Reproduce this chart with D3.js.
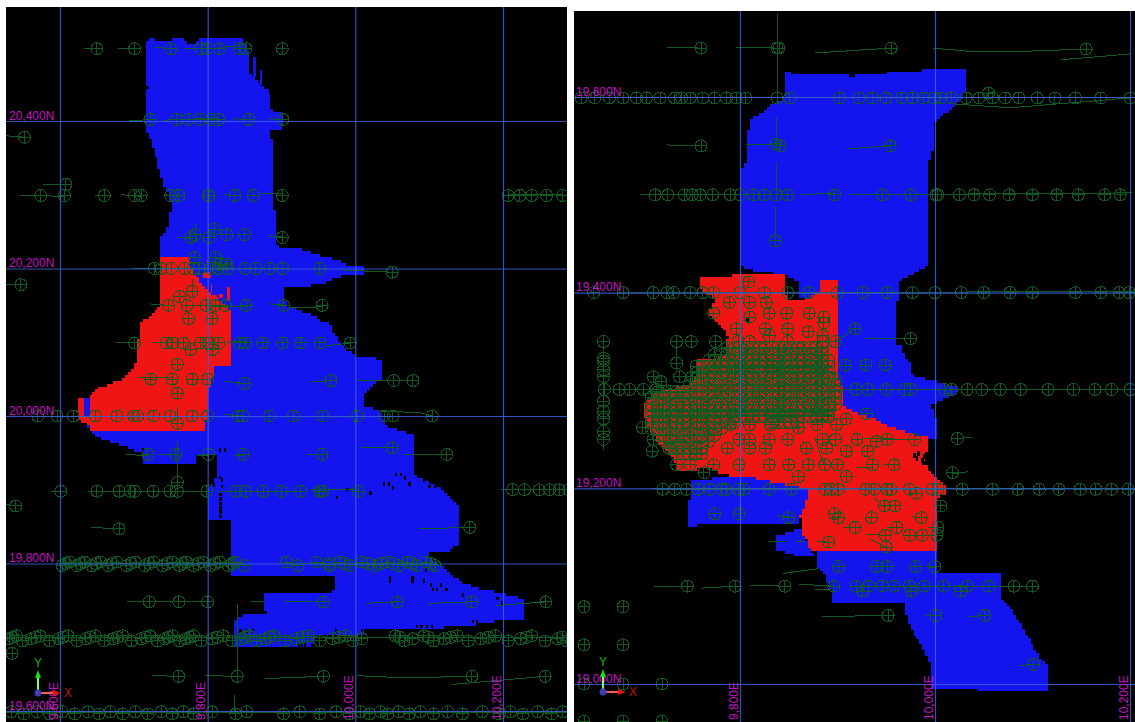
<!DOCTYPE html>
<html>
<head>
  <meta charset="utf-8">
  <title>Drill hole plan views</title>
  <style>
    html, body { margin: 0; background: #fff; }
    svg { display: block; }
  </style>
</head>
<body>
  <script src="https://cdn.jsdelivr.net/npm/d3@7/dist/d3.min.js"></script>
  <script>
    // grid ticks, survey coordinates
    var leftEastTicks = [9600, 9800, 10000, 10200];
    var leftNorthTicks = [19600, 19800, 20000, 20200, 20400];
    var rightEastTicks = [9800, 10000, 10200];
    var rightNorthTicks = [19000, 19200, 19400, 19600];

    // block outlines as [E, N]
    var leftBlue = [[9719,20513],[9729,20513],[9729,20507],[9754,20507],[9754,20513],[9769,20513],[9771,20506],[9786,20506],[9788,20513],[9848,20513],[9849,20506],[9855,20492],[9855,20469],[9863,20458],[9868,20452],[9878,20443],[9884,20435],[9884,20419],[9888,20412],[9901,20412],[9901,20389],[9884,20389],[9884,20376],[9888,20376],[9888,20302],[9891,20270],[9891,20236],[9895,20230],[9913,20230],[9937,20223],[9954,20218],[9972,20213],[9991,20204],[10013,20202],[10013,20194],[9991,20194],[9974,20188],[9956,20181],[9929,20176],[9903,20176],[9903,20160],[9910,20150],[9926,20143],[9944,20137],[9954,20130],[9969,20124],[9969,20112],[9986,20092],[10001,20082],[10020,20081],[10033,20075],[10036,20073],[10036,20051],[10020,20039],[10013,20031],[10013,20012],[10033,20008],[10043,19987],[10058,19982],[10079,19975],[10082,19919],[10102,19910],[10115,19903],[10132,19888],[10139,19879],[10139,19826],[10125,19817],[10100,19817],[10100,19808],[10120,19793],[10144,19774],[10165,19767],[10198,19760],[10216,19755],[10227,19750],[10227,19726],[10194,19726],[10184,19720],[10108,19713],[10013,19711],[10013,19705],[9944,19705],[9941,19687],[9836,19687],[9836,19725],[9850,19731],[9884,19732],[9876,19739],[9876,19762],[9970,19762],[9972,19786],[9832,19786],[9832,19862],[9800,19862],[9800,19899],[9811,19919],[9811,19949],[9783,19949],[9783,19938],[9711,19938],[9711,19950],[9677,19963],[9657,19970],[9645,19976],[9638,19983],[9638,20001],[9631,20001],[9631,20024],[9641,20024],[9708,20041],[9749,20157],[9741,20217],[9738,20218],[9738,20242],[9746,20256],[9749,20270],[9752,20289],[9741,20313],[9737,20329],[9731,20347],[9723,20374],[9716,20390],[9716,20438],[9719,20445],[9716,20456],[9716,20494]];
    var leftRed = [[9738,20218],[9773,20218],[9776,20207],[9779,20194],[9786,20188],[9794,20175],[9801,20167],[9812,20161],[9819,20157],[9830,20146],[9832,20075],[9832,20068],[9807,20068],[9807,20057],[9800,20034],[9800,20024],[9797,19982],[9640,19982],[9640,19987],[9626,19995],[9626,20024],[9631,20024],[9631,20001],[9640,20001],[9640,20024],[9654,20038],[9670,20045],[9687,20052],[9697,20063],[9703,20075],[9707,20112],[9707,20124],[9715,20131],[9729,20143],[9738,20150],[9738,20174]];
    var rightBlueUpper = [[9847,19625],[9872,19623],[9910,19623],[9911,19621],[9918,19621],[9918,19623],[9950,19624],[9951,19626],[9985,19626],[9986,19628],[10032,19628],[10032,19607],[10029,19600],[10019,19591],[10012,19585],[10003,19577],[10000,19575],[9999,19549],[9995,19539],[9994,19530],[9993,19427],[9987,19425],[9962,19413],[9962,19393],[9959,19393],[9959,19348],[9965,19347],[9969,19331],[9973,19331],[9977,19316],[9997,19311],[10010,19307],[10027,19302],[10006,19290],[9995,19285],[10002,19270],[10002,19251],[9992,19250],[9895,19270],[9895,19331],[9884,19393],[9861,19394],[9860,19413],[9847,19418],[9819,19423],[9809,19424],[9802,19427],[9802,19527],[9805,19529],[9807,19544],[9809,19575],[9812,19580],[9821,19583],[9833,19592],[9847,19600]];
    var rightBlueWest = [[9751,19208],[9783,19212],[9814,19211],[9833,19207],[9862,19201],[9870,19200],[9870,19193],[9866,19181],[9862,19171],[9862,19164],[9783,19163],[9781,19165],[9755,19164],[9755,19161],[9748,19161],[9748,19187],[9751,19188]];
    var rightBlueNotch = [[9838,19151],[9847,19154],[9862,19159],[9868,19159],[9868,19146],[9875,19132],[9855,19132],[9844,19136],[9837,19137]];
    var rightBlueSouth = [[9879,19136],[10003,19136],[10003,19113],[10067,19113],[10067,19090],[10075,19081],[10088,19061],[10099,19042],[10106,19030],[10115,19021],[10115,18994],[10045,18994],[10045,18996],[9997,18996],[9995,19023],[9990,19033],[9980,19050],[9973,19062],[9969,19078],[9969,19083],[9893,19083],[9893,19096],[9887,19112],[9880,19120]];
    var rightRed = [[9760,19417],[9793,19417],[9793,19420],[9837,19420],[9837,19418],[9847,19418],[9847,19399],[9851,19391],[9861,19391],[9871,19396],[9882,19403],[9882,19413],[9900,19413],[9900,19331],[9900,19314],[9907,19301],[9905,19285],[9921,19277],[9940,19270],[9958,19262],[9980,19255],[9992,19254],[9992,19236],[9990,19226],[9995,19216],[10002,19210],[10010,19202],[10010,19193],[10003,19192],[10003,19136],[9873,19136],[9868,19151],[9865,19154],[9865,19164],[9862,19171],[9866,19181],[9870,19193],[9870,19200],[9862,19201],[9833,19207],[9814,19211],[9785,19214],[9766,19221],[9751,19219],[9736,19217],[9733,19229],[9724,19239],[9714,19250],[9705,19267],[9701,19284],[9709,19294],[9722,19301],[9751,19307],[9757,19321],[9757,19331],[9773,19333],[9785,19335],[9788,19355],[9783,19365],[9777,19370],[9766,19379],[9775,19393],[9766,19399],[9760,19406]];

    // small loose pieces of block, [E0, N0, E1, N1]
    var leftBlueBits = [[9861,20487,9865,20460],[9871,20469,9873,20449],[9880,20443,9883,20435]];
    var leftRedBits = [[9826,20175,9830,20157],[9799,20212,9801,20206],[9804,20179,9806,20169],[9794,20195,9804,20188],[9816,20166,9821,20161]];

    // unestimated blocks, [E, N]
    var leftVoids = [[9815,19917],[9818,19914],[9807,19907],[9818,19905],[9711,19954],[9815,19954],[9822,19954],[9974,19890],[9988,19901],[10019,19896],[10037,19908],[10044,19908],[10050,19903],[10054,19921],[10060,19921],[10066,19916],[10072,19908],[10091,19914],[10099,19905],[10106,19905],[10094,19791],[10045,19781],[10045,19776],[10076,19781],[10076,19776],[10091,19777],[10101,19771],[10104,19765],[10109,19765],[10115,19771],[10122,19765],[10144,19758],[10191,19753],[10197,19747],[10082,19715],[10088,19715],[10096,19715],[10102,19715],[10158,19722],[10163,19722],[9843,19709],[9852,19709],[9860,19709],[9972,19709],[10007,19709],[10016,19709],[10026,19709],[9816,19894],[9816,19888],[9816,19882],[9816,19876],[9816,19870],[9816,19864],[9922,19690],[9926,19690],[9930,19690]];
    var rightVoids = [[9977,19234],[9982,19236],[9988,19233],[9980,19231],[9986,19229],[9990,19235],[9987,19226],[9806,19373]];

    // drill hole collars, one [N, [E, ...]] per section line
    var leftCollars = [
      [20498, [9650,9701,9750,9791,9800,9816,9843,9852,9901]],
      [20402, [9722,9758,9774,9790,9805,9815,9856,9902]],
      [20378, [9552]],
      [20314, [9608]],
      [20299, [9574,9606,9660,9701,9710,9750,9761,9801,9802,9837,9862,9901,10207,10223,10239,10259,10281]],
      [20246, [9783,9826,9850]],
      [20253, [9809]],
      [20242, [9802,9901,9777]],
      [20200, [9728,9737,9751,9769,9781,9789,9804,9814,9827,9851,9865,9884,9902,9952]],
      [20195, [10050]],
      [20215, [9782,9811]],
      [20206, [9825,9826,9816]],
      [20178, [9547]],
      [20169, [9779]],
      [20162, [9762]],
      [20150, [9747,9772,9798,9810,9824,9852,9903,9955]],
      [20132, [9774,9806]],
      [20099, [9701,9744,9753,9767,9790,9801,9815,9843,9852,9874,9901,9926,9952,9993]],
      [20090, [9777,9807]],
      [20070, [9759]],
      [20050, [9723,9752,9779,9800]],
      [20044, [9850]],
      [20048, [9967,10052,10078]],
      [20031, [9759]],
      [20000, [9570,9596,9618,9648,9677,9700,9705,9727,9749,9779,9800,9841,9848,9884,9916,9956,10003,10039,10051,10104]],
      [19990, [9759]],
      [19948, [9719,9757,9801,9848,9955,10124]],
      [19957, [10050]],
      [19910, [9759]],
      [19898, [9601,9650,9680,9695,9701,9726,9749,9759,9799,9838,9851,9875,9900,9926,9952,9956,10004]],
      [19900, [10213,10229,10249,10263,10276,10289]],
      [19878, [9540]],
      [19847, [9680]],
      [19849, [10155]],
      [19802, [9613,9633,9655,9677,9702,9727,9752,9771,9794,9816,9838,9907,9947,9979,10009,10044,10071,10096]],
      [19800, [9608,9628,9649,9671,9696,9721,9745,9766,9787,9810,9833,9965,9986,10017,10035,10052,10077,10102]],
      [19797, [9603,9623,9643,9665,9690,9715,9739,9762,9781,9804,9828,9850,9922,9965,9993,10026,10059,10083,10108]],
      [19748, [9721,9761,9800,9957,10057,10158,10258]],
      [19702, [9541,9573,9611,9648,9685,9722,9752,9781,9821,9856,9890,9937,9987,10054,10093,10138,10190,10239]],
      [19700, [9536,9567,9604,9641,9678,9716,9747,9776,9813,9851,9884,9929,9978,10060,10099,10129,10180,10232,10280]],
      [19698, [9531,9561,9598,9635,9672,9710,9742,9771,9806,9846,9878,9920,9969,10009,10078,10120,10170,10224,10274]],
      [19695, [9549,9586,9623,9660,9697,9732,9762,9791,9833,9866,9905,9952,9997,10066,10106,10153,10207,10257,10286]],
      [19678, [9535]],
      [19647, [9761,9840,9957,10158,10257]],
      [19599, [9534,9569,9603,9638,9668,9702,9737,9767,9806,9853,9925,9974,10007,10034,10059,10088,10125,10172,10210,10247,10281]],
      [19596, [9551,9586,9620,9653,9685,9719,9752,9781,9838,9903,9952,9992,10019,10044,10073,10106,10145,10195,10227,10266]]
    ];
    var rightCollars = [
      [19650, [9760,9838,9840,9955]],
      [19649, [10155]],
      [19604, [10055]],
      [19599, [9637,9651,9666,9680,9694,9704,9718,9733,9740,9749,9762,9774,9786,9796,9806,9838,9851,9902,9922,9936,9950,9966,9977,9988,9999,10006,10017,10032,10045,10059,10072,10086,10105,10123,10144,10170,10200]],
      [19552, [9837]],
      [19550, [9760,9841,9954]],
      [19500, [9713,9726,9743,9751,9759,9772,9790,9800,9814,9825,9837,9849,9897,9946,9975,10001,10003,10025,10040,10056,10076,10100,10125,10147,10174,10190]],
      [19453, [9836]],
      [19411, [9809]],
      [19400, [9650,9680,9711,9725,9732,9749,9762,9773,9800,9825,9849,9871,9900,9926,9951,9977,10000,10027,10050,10077,10100,10144,10170,10189,10199]],
      [19390, [9789,9810,9827]],
      [19379, [9773,9830,9848,9871]],
      [19375, [9886,9810]],
      [19369, [9886]],
      [19363, [9796,9826,9849,9918]],
      [19360, [9870]],
      [19356, [9885,9830]],
      [19353, [9975]],
      [19350, [9660,9735,9750,9775,9798,9810,9849,9898,9885]],
      [19333, [9660]],
      [19330, [9660]],
      [19328, [9735]],
      [19326, [9908,9929,9949]],
      [19321, [9660]],
      [19314, [9711,9738,9751,9660]],
      [19309, [9719]],
      [19301, [9661,9676,9687,9701,9714,9919,9931,9950,9969,9975,10010,10017,10033,10048,10067,10088,10116,10142,10164,10181,10200]],
      [19289, [9660]],
      [19279, [9660]],
      [19276, [9930]],
      [19275, [9890]],
      [19271, [9909,9660]],
      [19265, [9790,9810,9831,9879,9899]],
      [19262, [9700,9860]],
      [19258, [9660]],
      [19251, [10023]],
      [19250, [9660,9711,9799,9810,9830,9849,9885,9898,9920,9951,9979]],
      [19248, [9940]],
      [19241, [9727,9787,9810,9826,9868,9889]],
      [19238, [9710,9909,9931]],
      [19224, [9749,9773,9799,9830,9850,9870,9887,9900,9936,9958,9735]],
      [19216, [9763,10018]],
      [19212, [9860,9909]],
      [19199, [9721,9733,9745,9757,9769,9781,9786,9799,9804,9830,9853,9887,9894,9901,9929,9938,9951,9955,9974,9997,10003,10028,10059,10085,10107,10127,10149,10165,10181,10198]],
      [19195, [9981]],
      [19182, [9948,9959,10006]],
      [19174, [9774,9799,9897]],
      [19170, [9850,9901,9935,9986]],
      [19160, [9918,9961,10003]],
      [19152, [9974,9987,10002,9949]],
      [19145, [9891]],
      [19140, [9950]],
      [19120, [9901,9940,9951,9980,10000]],
      [19100, [9746,9795,9846,9896,9919,9932,9946,9958,9974,9989,10009,10033,10055,10081,10100]],
      [19095, [9926,9976,10026]],
      [19079, [9640,9680]],
      [19070, [9952,10001,10051]],
      [19040, [9640,9680]],
      [19020, [10101]],
      [19000, [9640,9680,9720]],
      [18962, [9640,9680,9720]]
    ];

    // tight drilling in the middle of the red zone, kept inside its outline
    var rightTightE = [9703,9709,9716,9722,9729,9735,9742,9748,9755,9761,9768,9774,9781,9787,9794,9800,9807,9813,9820,9826,9833,9839,9846,9852,9859,9865,9872,9878,9885,9891,9898];
    var rightTightN = [19344,19337,19331,19325,19318,19312,19305,19299,19293,19286,19280,19273,19267,19261,19254,19248,19241,19235];
    var rightTightOutline = [[9703,19289],[9705,19265],[9720,19244],[9734,19231],[9755,19227],[9773,19248],[9781,19258],[9803,19271],[9847,19265],[9892,19271],[9903,19297],[9894,19331],[9886,19346],[9785,19344],[9755,19325],[9749,19306],[9716,19301]];

    // hole traces as flat lists E, N, E, N ...
    var leftTraces = [
      [9632,20498,9650,20498],[9678,20499,9701,20498],[9729,20500,9750,20498],[9767,20498,9816,20498],[9816,20500,9843,20502],
      [9693,20400,9722,20402],[9740,20401,9758,20402],[9781,20404,9815,20403],[9834,20403,9856,20402],[9882,20403,9902,20402],
      [9527,20380,9552,20378],[9577,20314,9608,20314],
      [9546,20299,9606,20298],[9647,20299,9660,20299],[9683,20300,9710,20298],[9742,20300,9761,20298],[9822,20300,9837,20299],[9873,20301,9901,20302],[10207,20300,10281,20300],
      [9783,20260,9783,20246],[9809,20263,9809,20253],[9759,20242,9777,20241],[9882,20243,9901,20243],
      [9698,20200,9769,20200],[9982,20198,10050,20195],
      [9527,20179,9547,20178],[9779,20186,9779,20169],
      [9722,20152,9747,20150],[9772,20150,9852,20148],[9883,20152,9903,20151],[9910,20147,9955,20148],
      [9676,20100,9701,20099],[9724,20099,9767,20099],[9826,20100,9852,20101],[9960,20095,9993,20099],[9806,20110,9806,20089],
      [9705,20052,9752,20052],[9822,20047,9850,20044],[9939,20046,9967,20048],[10002,20048,10078,20048],
      [9759,20012,9759,19990],[9572,20000,9648,20000],[9824,20002,9848,20000],[9936,20000,10003,20000],
      [10034,20006,10086,20005],[10086,20005,10104,20000],
      [9689,19948,9719,19946],[9732,19948,9757,19948],[9786,19947,9801,19947],[9836,19946,9848,19946],[9935,19948,9955,19948],[10008,19957,10050,19957],[10064,19948,10124,19948],
      [9759,19966,9759,19910],[9588,19898,9601,19898],[9638,19898,9799,19898],[9816,19898,9926,19898],[9940,19901,10004,19900],[10197,19900,10289,19900],
      [9527,19880,9540,19878],[9642,19849,9680,19847],[10086,19847,10155,19849],
      [9603,19800,9850,19800],[9907,19800,10108,19800],
      [9691,19748,9800,19748],[9857,19748,9877,19748],[9903,19748,9957,19748],[10014,19746,10057,19748],[10099,19746,10158,19748],[10190,19743,10258,19748],
      [9840,19745,9840,19647],[9527,19699,10291,19699],
      [9725,19648,9761,19647],[9796,19648,9840,19647],[9878,19644,9957,19647],[10002,19648,10064,19645],[10064,19645,10158,19647],[10131,19636,10257,19647],
      [9519,19598,10291,19598],[9837,19622,9837,19598]
    ];
    var rightTraces = [
      [9725,19651,9760,19650],[9796,19651,9838,19650],[9877,19645,9955,19650],
      [9998,19650,10032,19647,10099,19647,10155,19649],[10129,19638,10200,19644],
      [9838,19685,9838,19600],[9630,19600,10205,19600],[10017,19593,10077,19589,10200,19599],
      [9725,19551,9760,19550],[9806,19551,9837,19552],[9837,19580,9837,19552],[9910,19547,9954,19550],
      [9697,19500,9849,19500],[9862,19500,9897,19502],[9913,19500,10202,19502],
      [9837,19534,9837,19503],[9836,19488,9836,19453],
      [9680,19400,10205,19401],
      [9898,19350,9918,19363],[9929,19353,9975,19353],
      [9660,19350,9660,19239],[9735,19350,9735,19325],
      [9669,19301,10200,19301],[9700,19297,9760,19299],
      [10023,19251,10038,19252],[10018,19215,10034,19217],
      [9928,19251,9979,19250],[9919,19221,9936,19221],[9947,19224,9958,19224],[9877,19251,9886,19225],
      [9710,19200,10205,19200],[9938,19190,9948,19181],[9838,19172,9850,19171],[9975,19171,9986,19170],
      [9906,19160,9918,19160],[9951,19160,9961,19160],[9993,19160,10003,19160],[9929,19153,9949,19152],
      [9830,19146,9847,19146],[9857,19146,9866,19146],[9879,19146,9891,19145],[9934,19148,9950,19140],
      [9844,19113,9881,19118],[9990,19120,10000,19119],
      [9712,19100,9746,19100],[9761,19098,9795,19100],[9810,19101,9846,19100],[9861,19102,9896,19100],[9877,19097,9893,19097],[9913,19100,10100,19100],
      [9884,19069,9952,19070],[9990,19070,10001,19070],[10035,19069,10051,19070],[10086,19019,10101,19020]
    ];

    var blockBlue = "#1414ee";
    var blockRed = "#f01414";
    var holeGreen = "#0e5a20";
    var gridBlue = "#3a62e0";
    var labelPink = "#c412c4";

    var svg = d3.select("body").append("svg")
      .attr("width", 1135)
      .attr("height", 722);

    // collar marker: circle with a cross through it
    var collarSymbol = {
      draw: function (ctx) {
        var r = 6;
        ctx.moveTo(r, 0);
        ctx.arc(0, 0, r, 0, 2 * Math.PI);
        ctx.moveTo(-r, 0);
        ctx.lineTo(r, 0);
        ctx.moveTo(0, -r);
        ctx.lineTo(0, r);
      }
    };

    // turn an outline into row runs of square model blocks
    function blockRuns(outline, cell) {
      var runs = [];
      var minE = Math.floor(d3.min(outline, function (d) { return d[0]; }) / cell) * cell;
      var maxE = d3.max(outline, function (d) { return d[0]; });
      var minN = Math.floor(d3.min(outline, function (d) { return d[1]; }) / cell) * cell;
      var maxN = d3.max(outline, function (d) { return d[1]; });
      for (var n = minN; n < maxN; n += cell) {
        var start = null;
        for (var e = minE; e <= maxE + cell; e += cell) {
          var inside = d3.polygonContains(outline, [e + cell / 2, n + cell / 2]);
          if (inside && start === null) start = e;
          if (!inside && start !== null) {
            runs.push([start, n + cell, e, n]);
            start = null;
          }
        }
      }
      return runs;
    }

    function drawPanel(p) {
      var x = d3.scaleLinear().domain(p.eastDomain).range(p.xRange);
      var y = d3.scaleLinear().domain(p.northDomain).range(p.yRange);

      var clipId = "clip-" + p.name;
      svg.append("clipPath").attr("id", clipId).append("rect")
        .attr("x", p.left).attr("y", p.top)
        .attr("width", p.right - p.left).attr("height", p.bottom - p.top);

      var panel = svg.append("g").attr("clip-path", "url(#" + clipId + ")");
      panel.append("rect")
        .attr("x", p.left).attr("y", p.top)
        .attr("width", p.right - p.left).attr("height", p.bottom - p.top)
        .attr("fill", "#000");

      function boxes(data, fill, cls) {
        panel.append("g").attr("class", cls).attr("shape-rendering", "crispEdges")
          .selectAll("rect").data(data).enter().append("rect")
          .attr("x", function (d) { return x(d[0]); })
          .attr("y", function (d) { return y(d[1]); })
          .attr("width", function (d) { return x(d[2]) - x(d[0]); })
          .attr("height", function (d) { return y(d[3]) - y(d[1]) + 0.6; })
          .attr("fill", fill);
      }

      // blocks
      p.blue.forEach(function (outline) { boxes(blockRuns(outline, p.cell), blockBlue, "blue"); });
      boxes(p.blueBits, blockBlue, "blue-bits");
      p.red.forEach(function (outline) { boxes(blockRuns(outline, p.cell), blockRed, "red"); });
      boxes(p.redBits, blockRed, "red-bits");
      boxes(p.voids.map(function (d) { return [d[0], d[1] + 2, d[0] + 3, d[1] - 2]; }), "#000", "voids");

      // hole traces
      var traceLine = d3.line()
        .x(function (d) { return x(d[0]); })
        .y(function (d) { return y(d[1]); });
      panel.append("g").attr("class", "traces").attr("shape-rendering", "crispEdges")
        .selectAll("path").data(p.traces).enter().append("path")
        .attr("d", function (t) {
          return traceLine(d3.range(0, t.length, 2).map(function (i) { return [t[i], t[i + 1]]; }));
        })
        .attr("fill", "none")
        .attr("stroke", holeGreen)
        .attr("stroke-width", 1);

      // hole collars
      var collarPts = [];
      p.collars.forEach(function (row) {
        row[1].forEach(function (e) { collarPts.push([e, row[0]]); });
      });
      if (p.tightOutline) {
        p.tightE.forEach(function (e) {
          p.tightN.forEach(function (n) {
            if (d3.polygonContains(p.tightOutline, [e, n])) collarPts.push([e, n]);
          });
        });
      }
      var symbol = d3.symbol().type(collarSymbol);
      panel.append("g").attr("class", "collars").attr("shape-rendering", "crispEdges")
        .selectAll("path").data(collarPts).enter().append("path")
        .attr("d", symbol)
        .attr("transform", function (d) { return "translate(" + x(d[0]) + "," + y(d[1]) + ")"; })
        .attr("fill", "none")
        .attr("stroke", holeGreen)
        .attr("stroke-width", 1);

      // grid and labels from the axes
      var yAxis = d3.axisLeft(y).tickValues(p.northTicks)
        .tickSize(-(p.right - p.left))
        .tickFormat(function (d) { return d3.format(",")(d) + "N"; });
      var xAxis = d3.axisBottom(x).tickValues(p.eastTicks)
        .tickSize(-(p.bottom - p.top))
        .tickFormat(function (d) { return d3.format(",")(d) + "E"; });

      var yG = panel.append("g").attr("transform", "translate(" + p.left + ",0)").call(yAxis);
      var xG = panel.append("g").attr("transform", "translate(0," + p.bottom + ")").call(xAxis);

      [yG, xG].forEach(function (g) {
        g.attr("font-family", "'Liberation Sans', Arial, sans-serif").attr("font-size", 12);
        g.select(".domain").remove();
        g.selectAll("line").attr("stroke", gridBlue).attr("stroke-width", 1.2).attr("stroke-opacity", 0.85);
        g.selectAll("text").attr("fill", labelPink);
      });
      yG.selectAll("text")
        .attr("text-anchor", "start")
        .attr("x", p.labelPad)
        .attr("y", -2)
        .attr("dy", 0);
      xG.selectAll("text")
        .attr("transform", "rotate(-90)")
        .attr("text-anchor", "start")
        .attr("x", 2)
        .attr("y", -3)
        .attr("dy", 0);

      // orientation triad in the corner
      var triad = panel.append("g").attr("font-family", "'Liberation Sans', Arial, sans-serif").attr("font-size", 12);
      var tx = p.triad[0], ty = p.triad[1];
      triad.append("line").attr("x1", tx).attr("y1", ty).attr("x2", tx).attr("y2", ty - 18).attr("stroke", "#7dff7d").attr("stroke-width", 2);
      triad.append("path").attr("d", "M" + (tx - 3) + "," + (ty - 15) + "L" + tx + "," + (ty - 23) + "L" + (tx + 3) + "," + (ty - 15) + "Z").attr("fill", "#14e014");
      triad.append("line").attr("x1", tx).attr("y1", ty).attr("x2", tx + 18).attr("y2", ty).attr("stroke", "#ff5a5a").attr("stroke-width", 2);
      triad.append("path").attr("d", "M" + (tx + 15) + "," + (ty - 3) + "L" + (tx + 23) + "," + ty + "L" + (tx + 15) + "," + (ty + 3) + "Z").attr("fill", "#e01414");
      triad.append("circle").attr("cx", tx).attr("cy", ty).attr("r", 3.5).attr("fill", "#3c3cb4");
      triad.append("text").attr("x", tx).attr("y", ty - 26).attr("text-anchor", "middle").attr("fill", "#12b012").text("Y");
      triad.append("text").attr("x", tx + 26).attr("y", ty + 4).attr("fill", "#c01414").text("X");
    }

    drawPanel({
      name: "north",
      left: 6, right: 567, top: 7, bottom: 722,
      eastDomain: [9600, 10200], xRange: [60, 503],
      northDomain: [19600, 20400], yRange: [711, 121],
      eastTicks: leftEastTicks, northTicks: leftNorthTicks,
      cell: 4, labelPad: 3,
      blue: [leftBlue], red: [leftRed],
      blueBits: leftBlueBits, redBits: leftRedBits, voids: leftVoids,
      collars: leftCollars, traces: leftTraces,
      triad: [38, 693]
    });

    drawPanel({
      name: "south",
      left: 574, right: 1135, top: 11, bottom: 722,
      eastDomain: [9800, 10200], xRange: [740, 1130],
      northDomain: [19000, 19600], yRange: [684, 97],
      eastTicks: rightEastTicks, northTicks: rightNorthTicks,
      cell: 3, labelPad: 2,
      blue: [rightBlueUpper, rightBlueWest, rightBlueNotch, rightBlueSouth], red: [rightRed],
      blueBits: [], redBits: [], voids: rightVoids,
      collars: rightCollars, traces: rightTraces,
      tightE: rightTightE, tightN: rightTightN, tightOutline: rightTightOutline,
      triad: [603, 692]
    });
  </script>
</body>
</html>
